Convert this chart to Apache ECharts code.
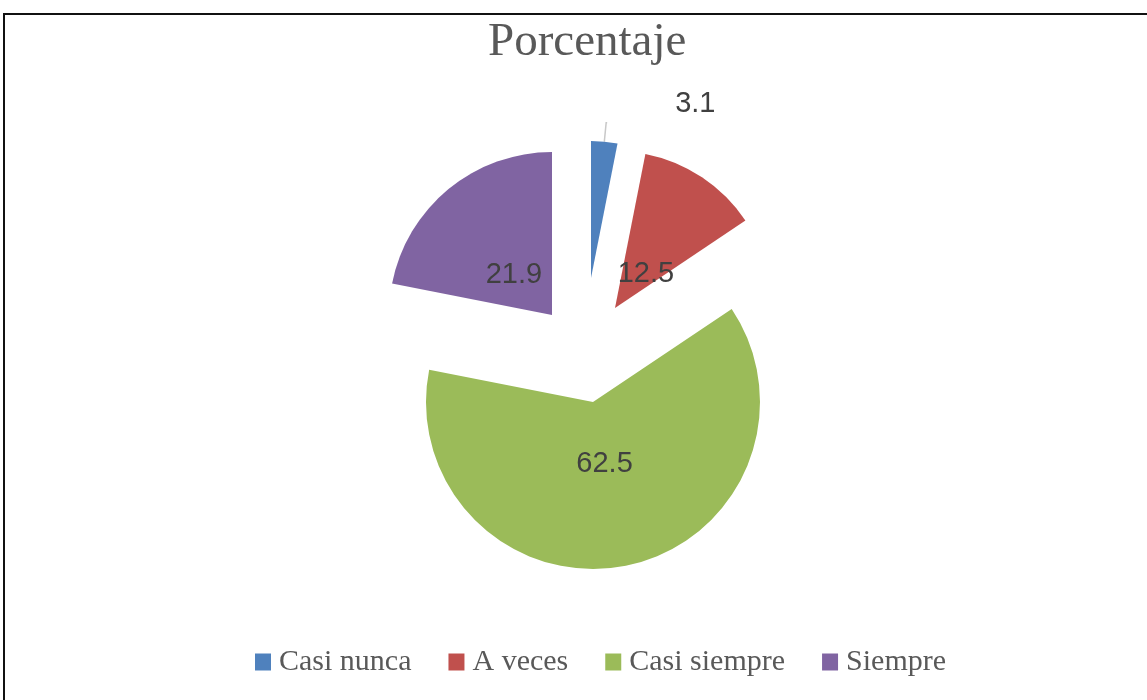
<!DOCTYPE html>
<html>
<head>
<meta charset="utf-8">
<script src="https://cdn.jsdelivr.net/npm/echarts@6/dist/echarts.min.js"></script>
<style>
  html, body { margin: 0; padding: 0; background: #fff; overflow: hidden; }
  #frame { position: absolute; left: 3px; top: 13px; width: 1300px; height: 900px;
           border-top: 2px solid #111; border-left: 2px solid #111; }
  #chart { position: absolute; left: 0; top: 0; width: 1147px; height: 700px; }
</style>
</head>
<body>
<div id="frame"></div>
<div id="chart"></div>
<script>
// Data
const categories = ["Casi nunca", "A veces", "Casi siempre", "Siempre"];
const percentages = [3.1, 12.5, 62.5, 21.9];
const colors = ["#4f81bd", "#c0504d", "#9bbb59", "#8064a2"];

// Each slice is exploded by its own amount, so every slice gets its own pie
// labelRadius = distance of the inside value label from the slice tip, labelShift nudges it
const sliceLayout = [
  { center: [591, 278], radius: 137, labelRadius: 0, labelShift: [0, 0] },
  { center: [615, 308], radius: 157, labelRadius: 51, labelShift: [1, 11] },
  { center: [593, 402], radius: 167, labelRadius: 61, labelShift: [-1, -1] },
  { center: [552, 315], radius: 163, labelRadius: 57, labelShift: [0, 6] }
];

const labelFont = { fontFamily: "Liberation Sans", fontSize: 29, color: "#404040" };

function sliceSeries(i) {
  const outside = i === 0;
  return {
    type: "pie",
    center: sliceLayout[i].center,
    radius: sliceLayout[i].radius,
    startAngle: 90,
    clockwise: true,
    avoidLabelOverlap: false,
    silent: true,
    label: Object.assign({
      position: "outside",
      formatter: "{c}\n\u00a0",
      lineHeight: 38,
      padding: [0, 0, 0, 63],
      distanceToLabelLine: 5
    }, labelFont),
    labelLine: { length: 19, length2: 1, lineStyle: { color: "#c8c8c8", width: 1.5 } },
    data: categories.map((name, j) => ({
      name: name,
      value: percentages[j],
      itemStyle: { color: j === i ? colors[i] : "transparent" },
      label: { show: outside && j === i },
      labelLine: { show: outside && j === i }
    }))
  };
}

// invisible pie whose inside labels land at labelRadius from the tip
function labelSeries(i) {
  const l = sliceLayout[i];
  return {
    type: "pie",
    center: [l.center[0] + l.labelShift[0], l.center[1] + l.labelShift[1]],
    radius: l.labelRadius * 2,
    startAngle: 90,
    clockwise: true,
    avoidLabelOverlap: false,
    silent: true,
    z: 5,
    label: Object.assign({ position: "inside", formatter: "{c}" }, labelFont),
    data: categories.map((name, j) => ({
      name: name,
      value: percentages[j],
      itemStyle: { color: "transparent" },
      label: { show: j === i }
    }))
  };
}

function initChart() {
  const chart = echarts.init(document.getElementById("chart"));
  const series = [];
  for (let i = 0; i < categories.length; i++) series.push(sliceSeries(i));
  for (let i = 1; i < categories.length; i++) series.push(labelSeries(i));

  const option = {
    animation: false,
    backgroundColor: "transparent",
    title: {
      text: "Porcentaje",
      left: 483,
      top: 14,
      textStyle: { fontFamily: "Liberation Serif", fontSize: 47, fontWeight: "normal", color: "#595959" }
    },
    legend: {
      left: 250,
      top: 642,
      icon: "rect",
      itemWidth: 16,
      itemHeight: 17,
      itemGap: 37,
      selectedMode: false,
      textStyle: { fontFamily: "Liberation Serif", fontSize: 30, color: "#595959", padding: [0, 0, 0, 3] },
      data: categories.map((name, j) => ({ name: name, itemStyle: { color: colors[j], borderWidth: 0 } }))
    },
    series: series
  };
  chart.setOption(option);
}

document.addEventListener("DOMContentLoaded", initChart);
</script>
</body>
</html>
